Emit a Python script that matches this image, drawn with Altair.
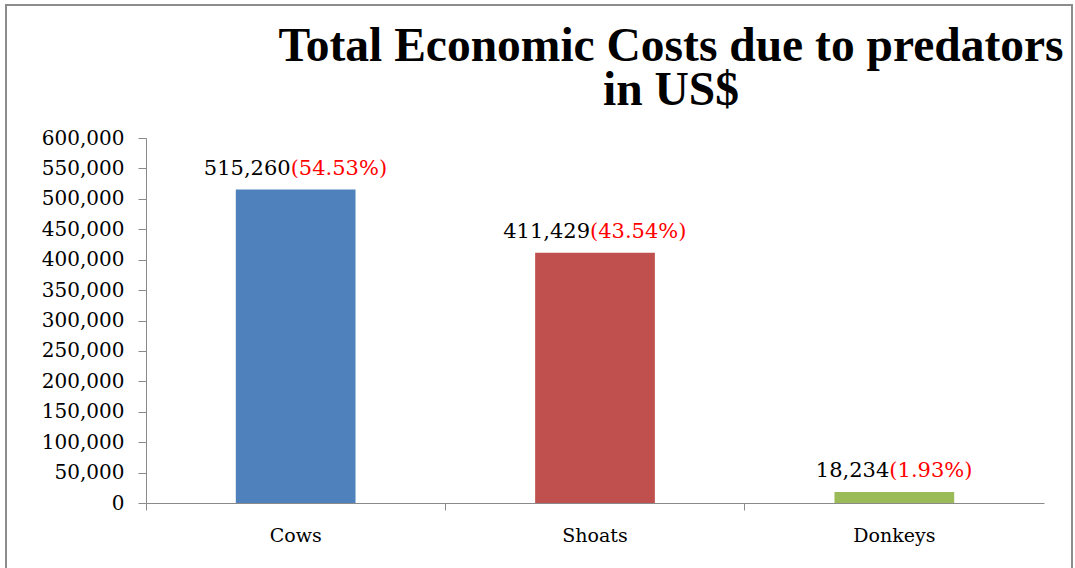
import altair as alt
import pandas as pd

categories = ["Cows", "Shoats", "Donkeys"]
costs = [515260, 411429, 18234]
shares = [54.53, 43.54, 1.93]
bar_colors = ["#4F81BD", "#C0504D", "#9BBB59"]
y_ticks = list(range(0, 600001, 50000))
title_lines = ["Total Economic Costs due to predators", "in US$"]

df = pd.DataFrame({"animal": categories, "cost": costs, "share": shares})
df["cost_label"] = [f"{v:,}" for v in costs]
df["share_label"] = [f"({s:.2f}%)" for s in shares]

W, H = 898, 365
BODY_FONT = "DejaVu Serif"
AXIS_GREY = "#8a8a8a"

x_enc = alt.X(
    "animal:N", sort=categories, title=None,
    scale=alt.Scale(paddingInner=0, paddingOuter=0),
    axis=alt.Axis(labelAngle=0, bandPosition=0, tickSize=7, tickColor=AXIS_GREY,
                  domainColor=AXIS_GREY, labelFont=BODY_FONT, labelFontSize=19,
                  labelColor="black", labelPadding=16, grid=False),
)
y_enc = alt.Y(
    "cost:Q", title=None,
    scale=alt.Scale(domain=[0, 600000], nice=False),
    axis=alt.Axis(values=y_ticks, format=",.0f", tickSize=8, tickColor=AXIS_GREY,
                  domainColor=AXIS_GREY, labelFont=BODY_FONT, labelFontSize=20,
                  labelColor="black", labelPadding=14, labelOverlap=False,
                  grid=False),
)

base = alt.Chart(df)

bars = base.mark_bar(width=alt.RelativeBandSize(0.4)).encode(
    x=x_enc,
    y=y_enc,
    color=alt.Color("animal:N", scale=alt.Scale(domain=categories, range=bar_colors), legend=None),
)

value_text = base.mark_text(align="right", baseline="alphabetic", dx=-5, dy=-15,
                            font=BODY_FONT, fontSize=21, color="black").encode(
    x=x_enc, y=y_enc, text="cost_label:N")

share_text = base.mark_text(align="left", baseline="alphabetic", dx=-5, dy=-15,
                            font=BODY_FONT, fontSize=21, color="#FF0000").encode(
    x=x_enc, y=y_enc, text="share_label:N")

border = alt.Chart(pd.DataFrame({"k": [0]})).mark_rect(
    fill="white", fillOpacity=0, stroke="#8c8c8c", strokeWidth=2).encode(
    x=alt.value(-140), x2=alt.value(926), y=alt.value(-133), y2=alt.value(460))

chart = alt.layer(border, bars, value_text, share_text).properties(
    width=W, height=H,
    background="white",
    title=alt.TitleParams(text=title_lines, font="Liberation Serif", fontSize=47.5,
                          fontWeight="bold", color="black", anchor="middle",
                          dx=76, dy=110, offset=0, lineHeight=44),
    autosize=alt.AutoSizeParams(type="none"),
    padding={"left": 146, "top": 138, "right": 31, "bottom": 65},
).configure_view(strokeOpacity=0, strokeWidth=0)

chart.save("out.html", embed_options={"renderer": "svg", "actions": False})
